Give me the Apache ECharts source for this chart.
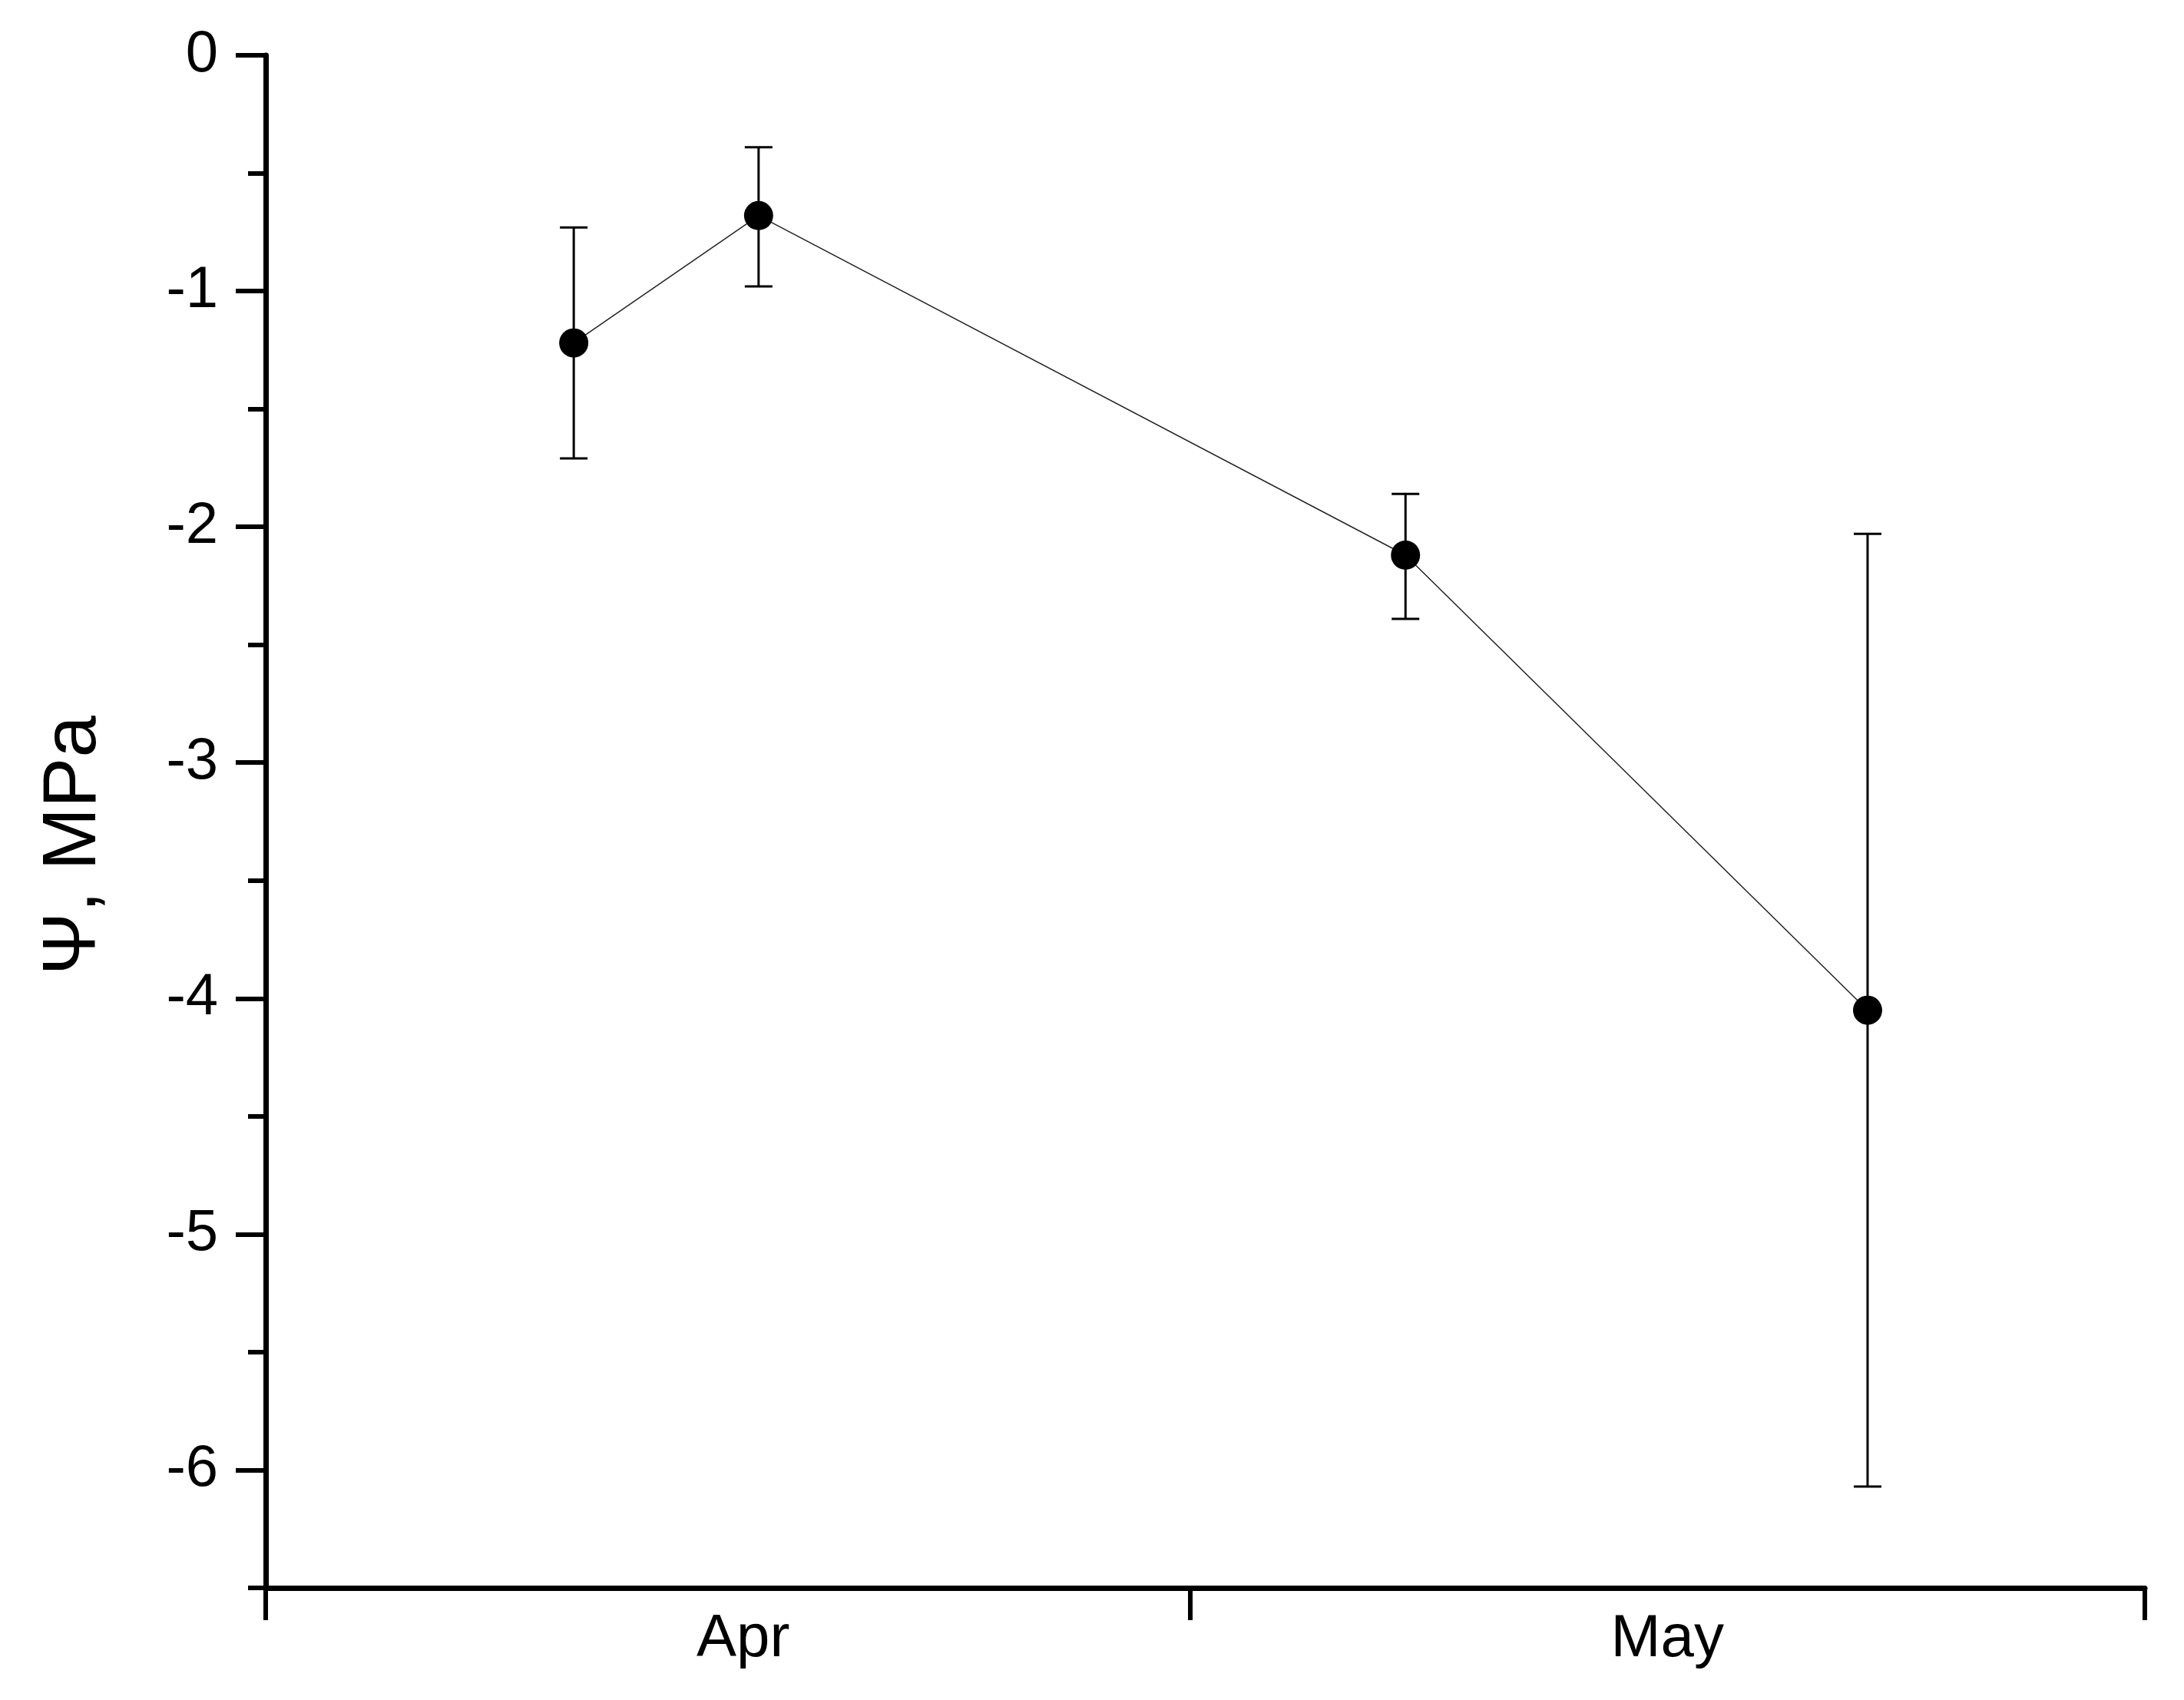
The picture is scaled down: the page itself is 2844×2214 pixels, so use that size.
<!DOCTYPE html>
<html>
<head>
<meta charset="utf-8">
<script src="https://cdn.jsdelivr.net/npm/echarts@6/dist/echarts.min.js"></script>
<style>
html,body{margin:0;padding:0;background:#fff;}
#chart{width:2844px;height:2214px;}
</style>
</head>
<body>
<div id="chart"></div>
<script>
// Month axis (day offsets from 1 April)
const months = ['Apr', 'May'];
const monthBounds = [0, 30, 61];
const monthCenters = [15.5, 45.5];
// Sampling days (offset from 1 April) and water potential values
const days = [10, 16, 37, 52];
const psi = [-1.22, -0.68, -2.12, -4.05];
const psiLow = [-1.71, -0.98, -2.39, -6.07];
const psiHigh = [-0.73, -0.39, -1.86, -2.03];
// Y-axis ticks
const yMajor = [0, -1, -2, -3, -4, -5, -6];
const yMinor = [-0.5, -1.5, -2.5, -3.5, -4.5, -5.5, -6.5];
const yName = 'Ψ, MPa';

const font = 'Liberation Sans, Arial, sans-serif';
const chart = echarts.init(document.getElementById('chart'));

const errData = days.map((d, i) => [d, psiLow[i], psiHigh[i]]);
const lineData = days.map((d, i) => [d, psi[i]]);

chart.setOption({
  backgroundColor: '#fff',
  animation: false,
  grid: { left: 346, right: 51, top: 72, bottom: 146, containLabel: false },
  xAxis: {
    type: 'value', min: 0, max: 61,
    axisLine: { show: true, onZero: false, lineStyle: { color: '#000', width: 7 } },
    axisTick: { show: true, customValues: monthBounds, length: 42, lineStyle: { color: '#000', width: 6 } },
    axisLabel: {
      show: true, customValues: monthCenters, margin: 28,
      formatter: v => months[monthCenters.indexOf(v)] || '',
      color: '#000', fontFamily: font, fontSize: 78
    },
    splitLine: { show: false }
  },
  yAxis: [
    {
      type: 'value', min: -6.5, max: 0, position: 'left',
      name: yName, nameLocation: 'middle', nameGap: 200,
      nameTextStyle: { color: '#000', fontFamily: font, fontSize: 98, padding: [0, 62, 0, 0] },
      axisLine: { show: true, onZero: false, lineStyle: { color: '#000', width: 7 } },
      axisTick: { show: true, customValues: yMajor, length: 39, lineStyle: { color: '#000', width: 6 } },
      axisLabel: { show: true, customValues: yMajor, margin: 62, color: '#000', fontFamily: font, fontSize: 76, formatter: v => String(v) },
      splitLine: { show: false }
    },
    {
      type: 'value', min: -6.5, max: 0, position: 'left',
      axisLine: { show: false, onZero: false },
      axisTick: { show: true, customValues: yMinor, length: 23, lineStyle: { color: '#000', width: 6 } },
      axisLabel: { show: false },
      splitLine: { show: false }
    }
  ],
  series: [
    {
      type: 'custom',
      xAxisIndex: 0, yAxisIndex: 0,
      data: errData,
      encode: { x: 0, y: [1, 2] },
      clip: false,
      z: 2,
      renderItem: function (params, api) {
        const x = api.value(0);
        const lo = api.coord([x, api.value(1)]);
        const hi = api.coord([x, api.value(2)]);
        const hw = 18;
        const style = { stroke: '#000', lineWidth: 3 };
        return {
          type: 'group',
          children: [
            { type: 'line', shape: { x1: lo[0], y1: lo[1], x2: hi[0], y2: hi[1] }, style: style },
            { type: 'line', shape: { x1: lo[0] - hw, y1: lo[1], x2: lo[0] + hw, y2: lo[1] }, style: style },
            { type: 'line', shape: { x1: hi[0] - hw, y1: hi[1], x2: hi[0] + hw, y2: hi[1] }, style: style }
          ]
        };
      }
    },
    {
      type: 'line',
      xAxisIndex: 0, yAxisIndex: 0,
      data: lineData,
      symbol: 'circle',
      symbolSize: 38,
      z: 3,
      itemStyle: { color: '#000' },
      lineStyle: { color: '#222', width: 1.5 }
    }
  ]
});
</script>
</body>
</html>
